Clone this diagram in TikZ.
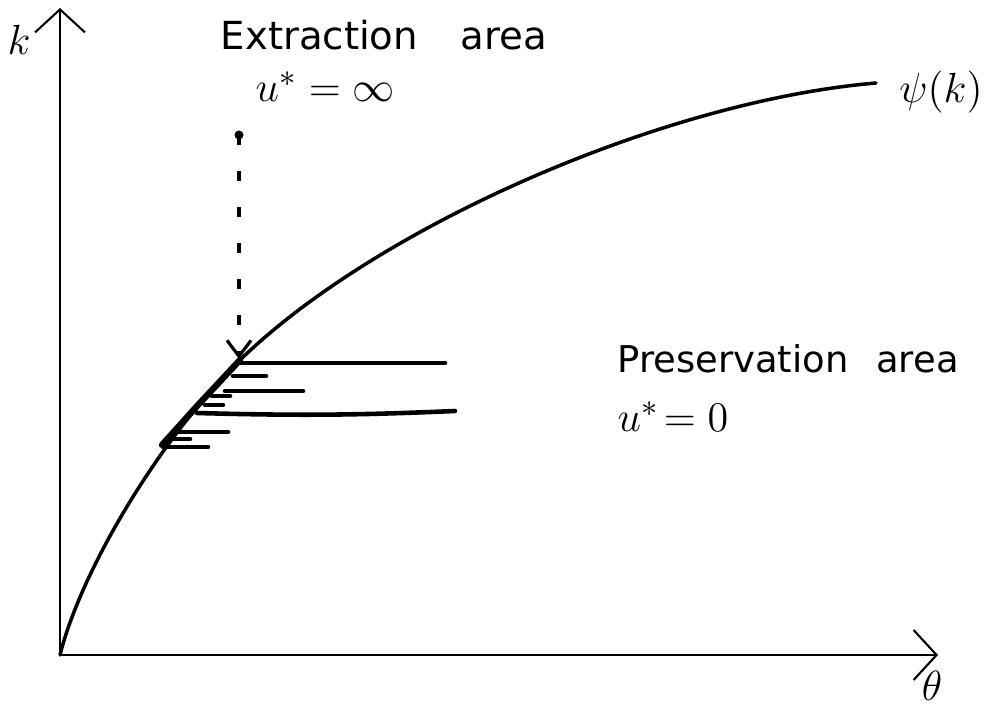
\documentclass[tikz,border=0pt]{standalone}
\usepackage{fontspec}
\setmainfont{DejaVu Sans}
\usepackage{amsmath}
\usepackage{tikz}
\usetikzlibrary{arrows.meta,positioning,calc}

\begin{document}
\begin{tikzpicture}[
  axis/.style={line width=0.6pt,-{Straight Barb[length=2.3mm,width=5mm]}},
  frontier/.style={line width=1pt,line cap=round,line join=round},
  hatch/.style={line width=1.3pt,line cap=round},
  lbl/.style={inner sep=0pt,anchor=base west},
]
\useasboundingbox (0,0) rectangle (9.87,7.07);
% axes
\coordinate (O) at (0.60,0.52);
\coordinate (ktip) at (0.60,6.99);
\coordinate (thtip) at (9.38,0.52);
\draw[axis] (O) -- (ktip);
\draw[axis] (O) -- (thtip);
\node[font=\large] (klab) at (0.19,6.67) {$k$};
\node[font=\large] (thlab) at (9.32,0.21) {$\theta$};
% frontier psi(k)
\coordinate (P1) at (2.40,3.47);
\coordinate (psiend) at (8.76,6.24);
\draw[frontier] (O) .. controls (0.82,1.40) and (1.63,2.72) .. (P1)
  .. controls (3.78,4.81) and (6.64,6.06) .. (psiend);
\node[font=\large] (psilab) at (9.41,6.15) {$\psi(k)$};
% thick part of the frontier under the hatching
\draw[hatch,line width=1.8pt] (1.62,2.62) -- (1.98,3.02) -- (P1);
% hatching
\foreach \yy/\xa/\xb in {3.44/2.40/4.45, 3.31/2.33/2.66, 3.16/2.25/3.03,
    3.11/2.12/2.30, 3.02/2.05/2.23, 2.75/1.77/2.28,
    2.68/1.73/1.90, 2.60/1.63/2.08}
  \draw[hatch] (\xa,\yy) -- (\xb,\yy);
\draw[hatch] (1.97,2.94) to[bend right=2] (4.55,2.96);
% jump to the frontier
\coordinate (start) at (2.39,5.72);
\coordinate (hit) at (2.39,3.48);
\fill (start) circle (0.045);
\draw[line width=0.9pt,dash pattern=on 0.1cm off 0.26cm,
  -{Straight Barb[length=1.6mm,width=2.4mm]}] (start) -- (hit);
% labels
\node[lbl,font=\fontsize{11}{13}\selectfont] (extr) at (2.20,6.57)
  {Extraction\hspace{1.1em}area};
\node[lbl,font=\fontsize{13}{15}\selectfont] (uinf) at (2.55,6.05)
  {$u^{*}=\infty$};
\node[lbl,font=\fontsize{10.5}{13}\selectfont] (pres) at (6.17,3.34)
  {Preservation\hspace{0.75em}area};
\node[lbl,font=\fontsize{13}{15}\selectfont] (uzero) at (6.17,2.75)
  {$u^{*}\!=0$};
\end{tikzpicture}
\end{document}
